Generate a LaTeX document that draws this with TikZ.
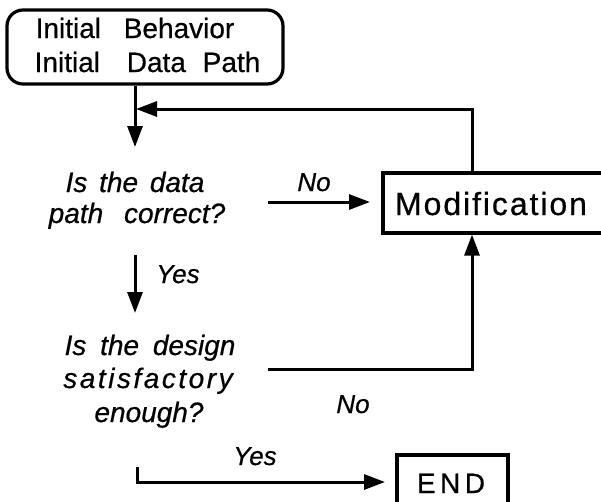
\documentclass[tikz,border=0pt]{standalone}
\usepackage{fontspec}
\setmainfont{Liberation Sans}[FakeBold=0.6]
\usetikzlibrary{arrows.meta}
\begin{document}
\begin{tikzpicture}[x=1pt,y=-1pt,
  ln/.style={line width=3pt},
  arr/.style={ln,-{Triangle[length=21pt,width=15pt]}},
  boxline/.style={draw,line width=3.2pt,inner sep=0pt},
  txt/.style={anchor=base,inner sep=0pt,font=\fontsize{28}{32}\selectfont},
  itxt/.style={txt,font=\fontsize{28}{32}\selectfont\itshape},
  wide/.style={itxt,font=\fontsize{28}{32}\selectfont\itshape\addfontfeature{LetterSpace=9}},
  lbl/.style={txt,font=\fontsize{26}{30}\selectfont\itshape},
  big/.style={txt,font=\fontsize{32}{36}\selectfont\addfontfeature{LetterSpace=6}},
  endtxt/.style={txt,font=\fontsize{28}{32}\selectfont\addfontfeature{LetterSpace=16}}
]
\useasboundingbox (0,0) rectangle (601,501);
\clip (0,0) rectangle (601,501);
\fill[white] (0,0) rectangle (601,501);

% boxes
\node[boxline,rounded corners=16pt,minimum width=276pt,minimum height=74pt] (start) at (145,47) {};
\node[txt] (t1) at (135,38) {Initial\hspace{15pt} Behavior};
\node[txt] (t2) at (147.5,72) {Initial\hspace{19pt} Data\hspace{9pt} Path};

\node[boxline,minimum width=247pt,minimum height=60pt] (mod) at (506.5,203) {};
\node[big] (modt) at (491,215) {Modification};

\node[boxline,minimum width=111pt,minimum height=75pt] (endb) at (452.5,492.5) {};
\node[endtxt] (endt) at (451,493) {END};

% questions
\node[itxt] (q1a) at (135,192) {Is\hspace{4pt} the\hspace{4pt} data};
\node[itxt] (q1b) at (137,223) {path\hspace{13pt} correct?};
\node[itxt] (q2a) at (150,355) {Is\hspace{6pt} the\hspace{6pt} design};
\node[wide] (q2b) at (148,388) {satisfactory};
\node[itxt] (q2c) at (149,422) {enough?};

% labels
\node[lbl] (no1) at (314,191) {No};
\node[lbl] (yes1) at (178,283) {Yes};
\node[lbl] (no2) at (353,413) {No};
\node[lbl] (yes2) at (255,465) {Yes};

% coordinates
\coordinate (a1) at (135,147);
\coordinate (fbtop) at (472,109);
\coordinate (fbend) at (136,109);
\coordinate (n1s) at (268,202);
\coordinate (n1e) at (370,202);
\coordinate (y1s) at (135,255);
\coordinate (y1e) at (135,313);
\coordinate (d1) at (268,369);
\coordinate (e1) at (137,467);
\coordinate (e2) at (385,482);

% connectors
\draw[arr] (a1 |- start.south) -- (a1);
\draw[arr] (mod.north -| fbtop) -- (fbtop) -- (fbend);
\draw[arr] (n1s) -- (n1e);
\draw[arr] (y1s) -- (y1e);
\draw[arr] (d1) -| (mod.south -| fbtop);
\draw[arr] (e1) |- (e2);
\end{tikzpicture}
\end{document}
